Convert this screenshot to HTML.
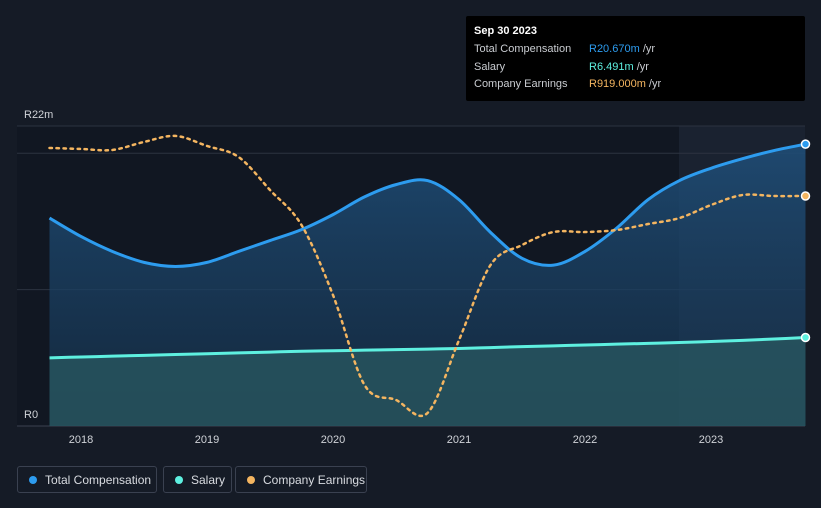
<!DOCTYPE html>
<html><head><meta charset="utf-8"><style>
body{margin:0;width:821px;height:508px;background:#151b26;font-family:"Liberation Sans",sans-serif;overflow:hidden;position:relative}
.tt{position:absolute;left:466px;top:16px;width:339px;height:85px;background:#000;border-radius:2px}
.tt div{position:absolute;font-size:11px;color:#c9ccd1}
.leg{position:absolute;top:466px;height:27px;border:1px solid #3a4150;border-radius:3px;color:#d8dbe0;font-size:12px;line-height:27px;box-sizing:border-box}
.dot{display:inline-block;width:8px;height:8px;border-radius:50%;margin:0 8px 0 11px;vertical-align:-0px}
</style></head><body>
<svg id="chart" width="821" height="508" style="position:absolute;left:0;top:0"></svg>
<div class="tt">
<div style="left:8px;top:9px;color:#fff;font-weight:bold;font-size:11px">Sep 30 2023</div>
<div style="left:8px;top:27px">Total Compensation</div>
<div style="left:123px;top:27px"><span style="color:#2d9cef">R20.670m</span> /yr</div>
<div style="left:8px;top:45px">Salary</div>
<div style="left:123px;top:45px"><span style="color:#5ef0e0">R6.491m</span> /yr</div>
<div style="left:8px;top:62px">Company Earnings</div>
<div style="left:123px;top:62px"><span style="color:#f4b560">R919.000m</span> /yr</div>
</div>
<div class="leg" style="left:17px;width:140px"><span class="dot" style="background:#2d9cef"></span>Total Compensation</div>
<div class="leg" style="left:163px;width:69px"><span class="dot" style="background:#5ef0e0"></span>Salary</div>
<div class="leg" style="left:235px;width:132px"><span class="dot" style="background:#f4b560"></span>Company Earnings</div>
<script>
const times=[2017.75,2018,2018.25,2018.5,2018.75,2019,2019.25,2019.5,2019.75,2020,2020.25,2020.5,2020.75,2021,2021.25,2021.5,2021.75,2022,2022.25,2022.5,2022.75,2023,2023.25,2023.5,2023.75];
const totalComp=[15.25,13.9,12.8,12.0,11.7,12.0,12.8,13.6,14.4,15.5,16.8,17.7,18.0,16.6,14.2,12.3,11.8,12.8,14.5,16.6,18.0,18.9,19.6,20.2,20.67];
const salary=[5.0,5.06,5.12,5.18,5.24,5.3,5.36,5.42,5.48,5.52,5.56,5.6,5.64,5.68,5.75,5.82,5.88,5.94,6.0,6.06,6.12,6.2,6.28,6.38,6.491];
const earnings=[1111,1107,1103,1135,1159,1119,1075,943,803,523,164,104,52,343,643,723,775,775,783,807,831,883,923,919,919];
const xTicks=[2018,2019,2020,2021,2022,2023];
const yTicks=[0,10,20,22];
const NS="http://www.w3.org/2000/svg",svg=document.getElementById('chart');
const X=t=>81+(t-2018)*126, Y=v=>426-v*300/22, YE=v=>426-v*230/919;
function mk(tag,a,parent){const e=document.createElementNS(NS,tag);for(const k in a)e.setAttribute(k,a[k]);(parent||svg).appendChild(e);return e;}
function path(pts){let d=`M${pts[0][0]},${pts[0][1]}`;for(let i=0;i<pts.length-1;i++){const p0=pts[i-1]||pts[i],p1=pts[i],p2=pts[i+1],p3=pts[i+2]||p2;d+=` C${p1[0]+(p2[0]-p0[0])/6},${p1[1]+(p2[1]-p0[1])/6} ${p2[0]-(p3[0]-p1[0])/6},${p2[1]-(p3[1]-p1[1])/6} ${p2[0]},${p2[1]}`;}return d;}
let e=mk('rect',{x:17,y:126,width:788,height:300,fill:'#111722'});

e=mk('rect',{x:679,y:126,width:126,height:300,fill:'#1a2230'});

yTicks.forEach(v=>{const g=mk('line',{x1:17,x2:805,y1:Y(v),y2:Y(v),stroke:v==0?'#3a4150':'#2c3340','stroke-width':1});
});
const defs=mk('defs',{});
const gr=mk('linearGradient',{id:'gb',x1:0,y1:0,x2:0,y2:1},defs);
mk('stop',{offset:0,'stop-color':'#1f4f7a','stop-opacity':0.85},gr);mk('stop',{offset:1,'stop-color':'#163450','stop-opacity':0.6},gr);
const tp=times.map((t,i)=>[X(t),Y(totalComp[i])]),sp=times.map((t,i)=>[X(t),Y(salary[i])]),ep=times.map((t,i)=>[X(t),YE(earnings[i])]);
const x0=X(times[0]),x1=X(times[times.length-1]);
e=mk('path',{d:path(tp)+` L${x1},426 L${x0},426 Z`,fill:'url(#gb)'});

e=mk('path',{d:path(sp)+` L${x1},426 L${x0},426 Z`,fill:'#2a5a62','fill-opacity':0.75});

e=mk('path',{d:path(tp),fill:'none',stroke:'#2d9cef','stroke-width':3});

e=mk('path',{d:path(sp),fill:'none',stroke:'#5ef0e0','stroke-width':3});

e=mk('path',{d:path(ep),fill:'none',stroke:'#f4b560','stroke-width':2.5,'stroke-dasharray':'2.5 4.5','stroke-linecap':'round'});

[[tp,'#2d9cef','total-compensation-end-dot'],[sp,'#5ef0e0','salary-end-dot'],[ep,'#f4b560','earnings-end-dot']].forEach(([p,c,n])=>{
const d=mk('circle',{cx:p[p.length-1][0],cy:p[p.length-1][1],r:4,fill:c,stroke:'#fff','stroke-width':1.5});
});
xTicks.forEach(t=>{const l=mk('text',{x:X(t),y:443,fill:'#d0d3d8','font-size':11,'text-anchor':'middle'});l.textContent=t;
});
[['R22m',Y(22)-8],['R0',Y(0)-8]].forEach(([s,y])=>{const l=mk('text',{x:24,y:y,fill:'#d0d3d8','font-size':11});l.textContent=s;
});
</script>
</body></html>
